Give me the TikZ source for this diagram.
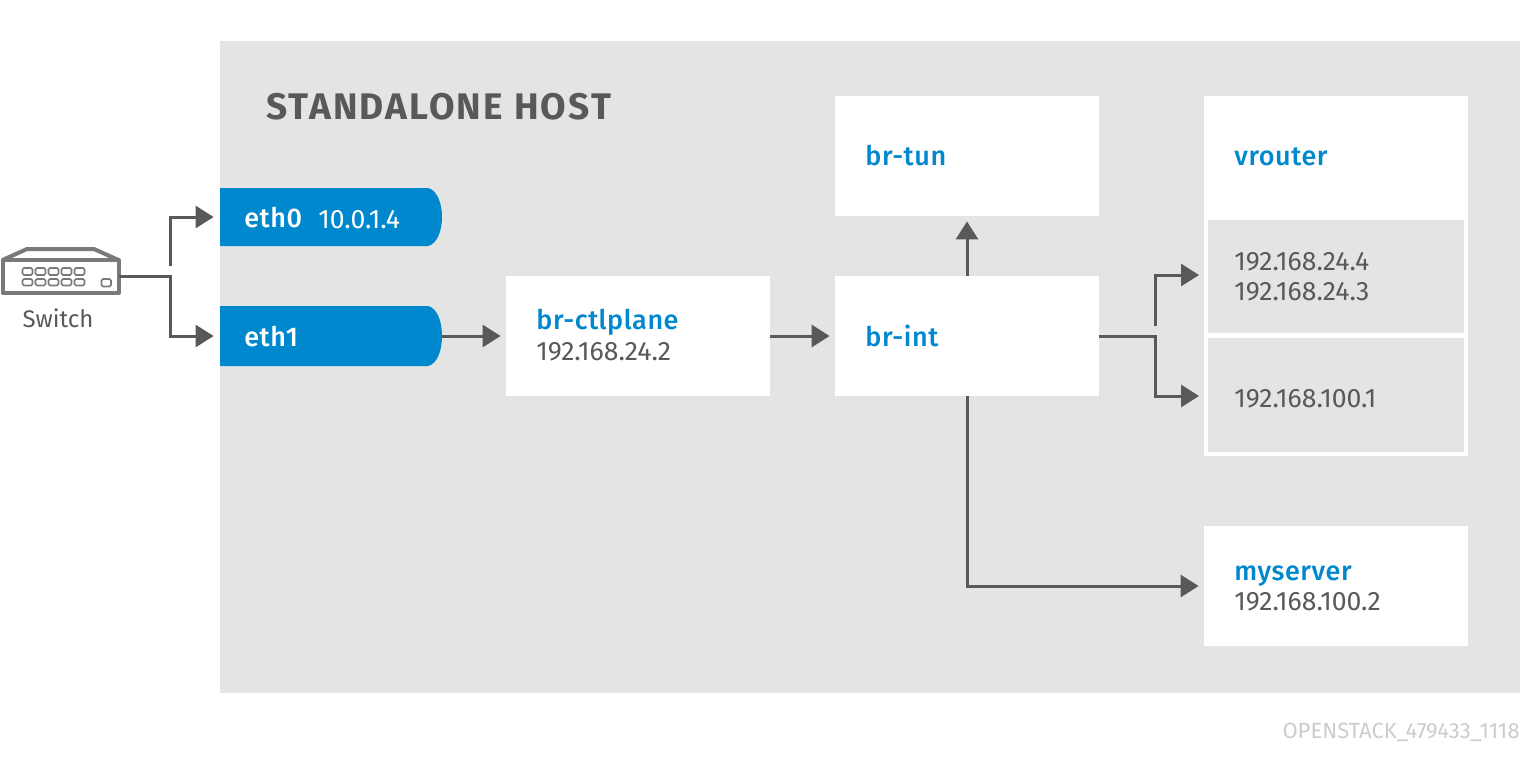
\documentclass[tikz,border=0pt]{standalone}
\usepackage{fontspec}
\setmainfont{Fira Sans}
\newfontfamily\medfont{Fira Sans Medium}
\usetikzlibrary{arrows.meta}
\definecolor{inkc}{HTML}{58595B}
\definecolor{bluec}{HTML}{0088CE}
\definecolor{grayc}{HTML}{E4E4E4}
\definecolor{swc}{HTML}{7A7A7A}
\tikzset{
  box/.style={fill=white,draw=none,inner sep=0pt,minimum width=132pt,minimum height=60pt},
  inner/.style={fill=grayc,draw=none,inner sep=0pt,minimum width=128pt},
  lbl/.style={anchor=base west,inner sep=0pt,text=bluec,font=\medfont\fontsize{13.5}{16}\selectfont\addfontfeature{LetterSpace=2}},
  ip/.style={anchor=base west,inner sep=0pt,text=inkc,font=\fontsize{13.3}{15}\selectfont},
  conn/.style={draw=inkc,line width=1.5pt,-{Triangle[length=9pt,width=11pt]}},
  port/.style={draw=swc,line width=.8pt,fill=white,rounded corners=.7pt},
  eth/.style={inner sep=0pt,minimum width=111pt,minimum height=29pt}
}
\begin{document}
\begin{tikzpicture}[x=.5pt,y=-.5pt]
\useasboundingbox (0,0) rectangle (1520,773);
\fill[grayc] (220,41) rectangle (1520,693);
\node[anchor=base west,inner sep=0pt,text=inkc,font=\fontsize{18.5}{20}\selectfont\bfseries\addfontfeature{LetterSpace=5.8}] (title) at (266,119) {STANDALONE HOST};
% eth shapes
\fill[bluec] (220,188) -- (428,188) .. controls (437,190) and (442,203) .. (442,217) .. controls (442,231) and (437,244) .. (428,246) -- (220,246) -- cycle;
\fill[bluec] (220,306) -- (428,306) .. controls (437,308) and (442,321) .. (442,336) .. controls (442,351) and (437,364) .. (428,366) -- (220,366) -- cycle;
\node[eth] (eth0) at (331,217) {};
\node[eth] (eth1) at (331,336) {};
\node[lbl,text=white] (eth0t) at (244,227) {eth0};
\node[ip,text=white] (eth0ip) at (318,228) {10.0.1.4};
\node[lbl,text=white] (eth1t) at (244,346) {eth1};
% boxes
\node[box] (ctl) at (638,336) {};
\node[box] (int) at (967,336) {};
\node[box] (tun) at (967,156) {};
\node[box] (mysrv) at (1336,586) {};
\node[box,minimum height=180pt] (vr) at (1336,276) {};
\node[inner,minimum height=56.5pt] (vr1) at (1336,276.5) {};
\node[inner,minimum height=57pt] (vr2) at (1336,395) {};
% labels
\node[lbl] (ctlt) at (536,329) {br-ctlplane};
\node[ip] (ctlip) at (536,360) {192.168.24.2};
\node[lbl] (intt) at (865,346) {br-int};
\node[lbl] (tunt) at (865,165) {br-tun};
\node[lbl] (vrt) at (1234,165) {vrouter};
\node[ip] (a1) at (1234,270) {192.168.24.4};
\node[ip] (a2) at (1234,300) {192.168.24.3};
\node[ip] (a3) at (1234,407) {192.168.100.1};
\node[lbl] (myt) at (1234,580) {myserver};
\node[ip] (myip) at (1234,610) {192.168.100.2};
% switch icon
\node[inner sep=0pt,minimum width=59pt,minimum height=18pt] (sw) at (60,276) {};
\draw[swc,line width=2pt,line join=round,fill=white] (2.5,260) -- (2.5,293) -- (118.5,293) -- (118.5,260) -- cycle;
\draw[swc,line width=2pt,line join=round] (2.5,260) -- (27,249) -- (94,249) -- (118.5,260);
\foreach \i in {0,...,4}{
  \draw[port] (22.5+13*\i,268) rectangle (32.5+13*\i,275);
  \draw[port] (22.5+13*\i,279) rectangle (32.5+13*\i,285.5);
}
\draw[port] (101.5,279) rectangle (111,286.5);
\node[anchor=base,inner sep=0pt,text=inkc,font=\fontsize{12}{14}\selectfont] (swt) at (58,327) {Switch};
% connectors
\coordinate (j1) at (170,266);
\draw[conn,shorten >=3pt] (j1) |- (eth0.west);
\draw[conn,shorten >=3pt] (sw.east) -| (170,336) -- (eth1.west);
\draw[conn,shorten >=2.5pt] (eth1.east) -- (ctl.west);
\draw[conn,shorten >=2.5pt] (ctl.east) -- (int.west);
\draw[conn,shorten >=2.5pt] (int.north) -- (tun.south);
\coordinate (j2) at (1155,326);
\coordinate (t1) at (1204,275);
\coordinate (t2) at (1204,396);
\draw[conn,shorten >=2.5pt] (j2) |- (t1);
\draw[conn,shorten >=2.5pt] (int.east) -| (1155,396) -- (t2);
\draw[conn,shorten >=2.5pt] (int.south) |- (mysrv.west);
\node[anchor=base east,inner sep=0pt,text=black!20,font=\fontsize{11}{12}\selectfont] (code) at (1520,738) {OPENSTACK\_479433\_1118};
\end{tikzpicture}
\end{document}
